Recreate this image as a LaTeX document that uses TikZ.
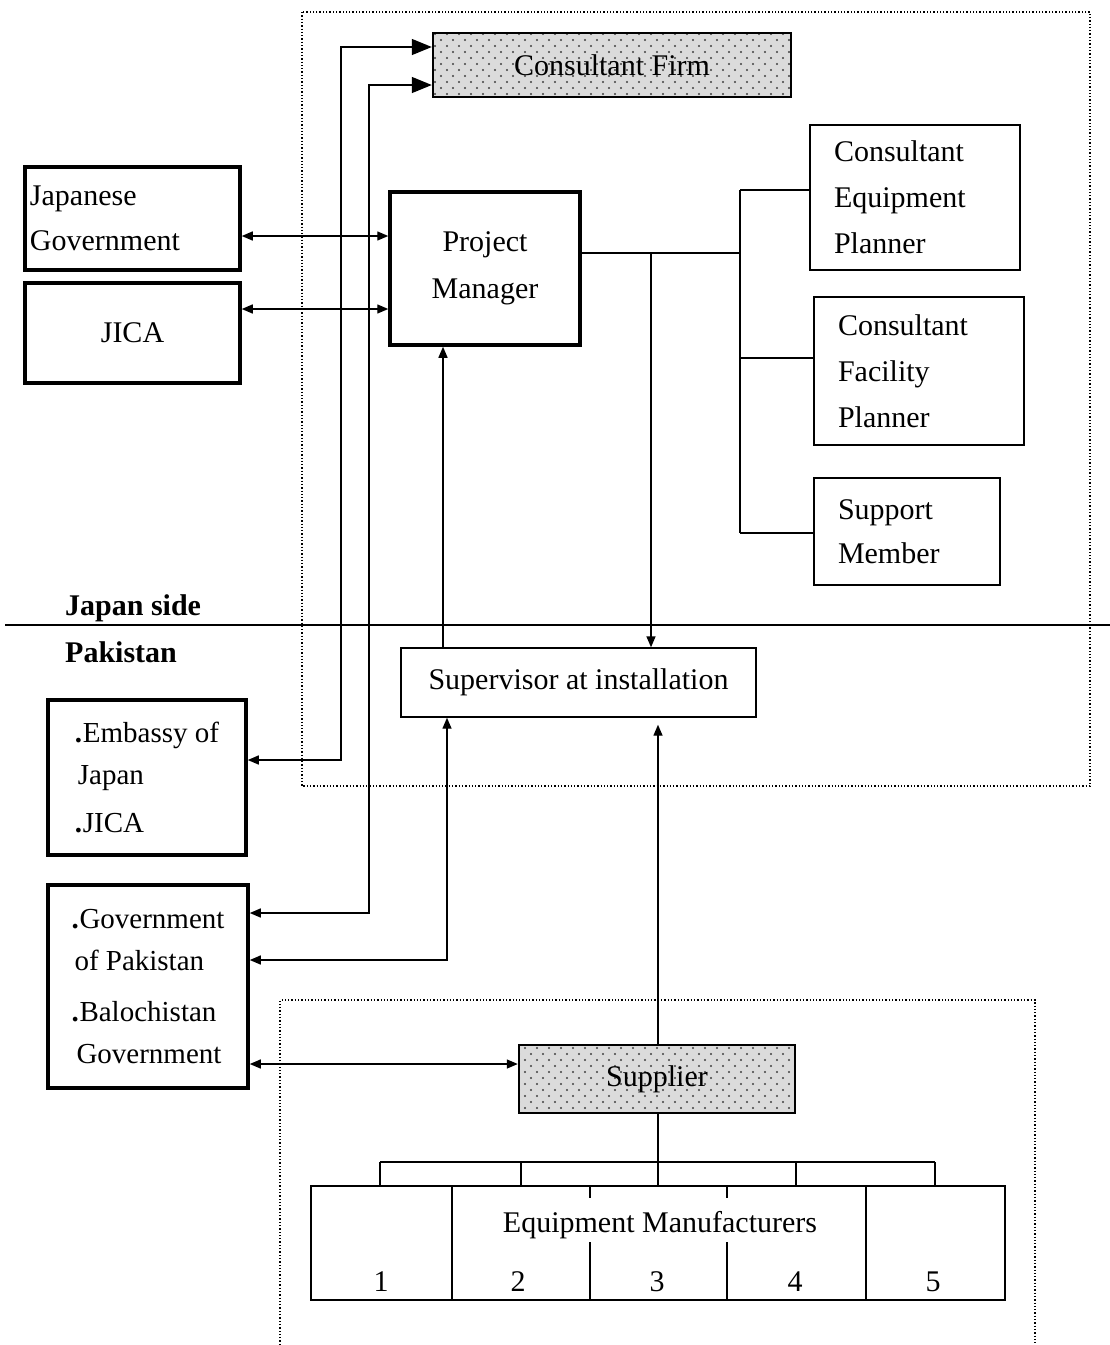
\documentclass[tikz,border=0pt]{standalone}
\usepackage{fontspec}
\setmainfont{Liberation Serif}
\usetikzlibrary{arrows.meta,patterns,calc}
\pgfdeclarepatternformonly{stippledots}{\pgfpoint{-1pt}{-1pt}}{\pgfpoint{13pt}{13pt}}{\pgfpoint{12pt}{12pt}}{%
  \pgfpathcircle{\pgfpoint{3pt}{3pt}}{1.2pt}%
  \pgfpathcircle{\pgfpoint{9pt}{9pt}}{1.2pt}%
  \pgfusepath{fill}}
\begin{document}
\begin{tikzpicture}[x=1pt,y=-1pt,
  heavy/.style={draw, line width=3.5pt, inner sep=0pt},
  light/.style={draw, line width=1.4pt, inner sep=0pt},
  stip/.style={draw, line width=2.4pt, inner sep=0pt, preaction={fill=gray!28}, pattern=stippledots, pattern color=black!75},
  txt/.style={font=\fontsize{30}{46}\selectfont},
  lbl/.style={font=\fontsize{30}{36}\bfseries\selectfont, inner sep=0pt},
  conn/.style={line width=1.4pt},
  frame/.style={dotted, line width=1.3pt},
  >={Triangle[length=11pt,width=9pt]}
]
\useasboundingbox (0,0) rectangle (1110,1345);

% dotted frames
\draw[frame] (302,12) rectangle (1090,786);
\draw[frame] (280,1345) -- (280,1000) -- (1035,1000) -- (1035,1345);

% separator
\draw[line width=1.5pt] (5,625) -- (1110,625);
\node[lbl, anchor=base west] (jside) at (65,615) {Japan side};
\node[lbl, anchor=base west] (pak) at (65,662) {Pakistan};

% boxes
\node[stip, minimum width=358pt, minimum height=64pt, txt] (cf) at (612,65) {Consultant Firm};
\node[heavy, minimum width=215pt, minimum height=103pt, txt, text width=205pt, align=left, font=\fontsize{30}{45}\selectfont] (jg) at (132.5,218.5) {Japanese\\Government};
\node[heavy, minimum width=215pt, minimum height=100pt, txt] (jica) at (132.5,333) {JICA};
\node[heavy, minimum width=190pt, minimum height=153pt, txt, align=center, font=\fontsize{30}{47}\selectfont] (pm) at (485,268.5) {Project\\Manager};
\node[light, minimum width=210pt, minimum height=145pt, txt, text width=162pt, align=left] (cep) at (915,197.5) {Consultant\\Equipment\\Planner};
\node[light, minimum width=210pt, minimum height=148pt, txt, text width=162pt, align=left] (cfp) at (919,371) {Consultant\\Facility\\Planner};
\node[light, minimum width=186pt, minimum height=107pt, txt, text width=138pt, align=left, font=\fontsize{30}{44}\selectfont] (sm) at (907,531.5) {Support\\Member};
\node[light, minimum width=355pt, minimum height=69pt, txt] (sup) at (578.5,682.5) {Supervisor at installation};
\node[heavy, minimum width=198pt, minimum height=155pt, align=left, font=\fontsize{29}{42}\selectfont] (emb) at (147,777.5)
  {\makebox[8pt][l]{\textbf{.}}Embassy of\\\hspace*{3pt}Japan\\[6pt]\makebox[8pt][l]{\textbf{.}}JICA};
\node[heavy, minimum width=200pt, minimum height=203pt, align=left, font=\fontsize{29}{42}\selectfont] (gop) at (148,986.5)
  {\makebox[8pt][l]{\textbf{.}}Government\\\hspace*{3pt}of Pakistan\\[9pt]\makebox[8pt][l]{\textbf{.}}Balochistan\\\hspace*{5pt}Government};
\node[stip, minimum width=276pt, minimum height=68pt, txt] (supp) at (657,1079) {Supplier};

% manufacturers
\node[light, minimum width=694pt, minimum height=114pt] (mfr) at (658,1243) {};
\coordinate (v1) at (452,1243);
\coordinate (v2) at (590,1243);
\coordinate (v3) at (727,1243);
\coordinate (v4) at (866,1243);
\draw[conn] (mfr.north -| v1) -- (mfr.south -| v1);
\draw[conn] (mfr.north -| v4) -- (mfr.south -| v4);
\draw[conn] (mfr.north -| v2) -- (590,1198);
\draw[conn] (590,1242) -- (mfr.south -| v2);
\draw[conn] (mfr.north -| v3) -- (727,1198);
\draw[conn] (727,1242) -- (mfr.south -| v3);
\node[txt, inner sep=1pt] (emtxt) at (660,1225) {Equipment Manufacturers};
\node[txt, inner sep=0pt] (n1) at (381,1282) {1};
\node[txt, inner sep=0pt] (n2) at (518,1282) {2};
\node[txt, inner sep=0pt] (n3) at (657,1282) {3};
\node[txt, inner sep=0pt] (n4) at (795,1282) {4};
\node[txt, inner sep=0pt] (n5) at (933,1282) {5};

% supplier to manufacturers bus
\coordinate (bT) at (658,1162);
\coordinate (d1) at (380,1162);
\coordinate (d2) at (521,1162);
\coordinate (d3) at (658,1162);
\coordinate (d4) at (796,1162);
\coordinate (d5) at (935,1162);
\draw[conn] (supp.south -| bT) -- (bT);
\draw[conn] (d1) -- (d5);
\foreach \d in {d1,d2,d3,d4,d5} \draw[conn] (\d) -- (mfr.north -| \d);

% consultant firm long connectors
\coordinate (cA1) at (341,47);
\coordinate (cA2) at (341,760);
\coordinate (cB1) at (369,85);
\coordinate (cB2) at (369,913);
\draw[conn, {Triangle[length=11pt,width=9pt]}-{Triangle[length=20pt,width=16pt]}]
  (emb.east |- cA2) -- (cA2) -- (cA1) -- (cf.west |- cA1);
\draw[conn, {Triangle[length=11pt,width=9pt]}-{Triangle[length=20pt,width=16pt]}]
  (gop.east |- cB2) -- (cB2) -- (cB1) -- (cf.west |- cB1);

% Japanese government / JICA to project manager
\coordinate (yJG) at (300,236);
\coordinate (yJI) at (300,309);
\draw[conn, <->] (jg.east |- yJG) -- (pm.west |- yJG);
\draw[conn, <->] (jica.east |- yJI) -- (pm.west |- yJI);

% supervisor up to project manager
\coordinate (xS) at (443,500);
\draw[conn, ->] (sup.north -| xS) -- (pm.south -| xS);

% project manager to consultants bus
\coordinate (busR) at (740,253);
\coordinate (junc) at (651,253);
\coordinate (b1) at (740,190);
\coordinate (b2) at (740,358);
\coordinate (b3) at (740,533);
\draw[conn] (pm.east |- busR) -- (busR);
\draw[conn] (b1) -- (b3);
\draw[conn] (b1) -- (cep.west |- b1);
\draw[conn] (b2) -- (cfp.west |- b2);
\draw[conn] (b3) -- (sm.west |- b3);
\draw[conn, ->] (junc) -- (sup.north -| junc);

% government of Pakistan to supervisor
\coordinate (cC) at (447,960);
\draw[conn, <->] (gop.east |- cC) -- (cC) -- (sup.south -| cC);

% supplier up to supervisor
\draw[conn, ->, shorten >=7pt] (supp.north -| bT) -- (sup.south -| bT);

% government to supplier
\coordinate (yGS) at (400,1064);
\draw[conn, <->] (gop.east |- yGS) -- (supp.west |- yGS);
\end{tikzpicture}
\end{document}
